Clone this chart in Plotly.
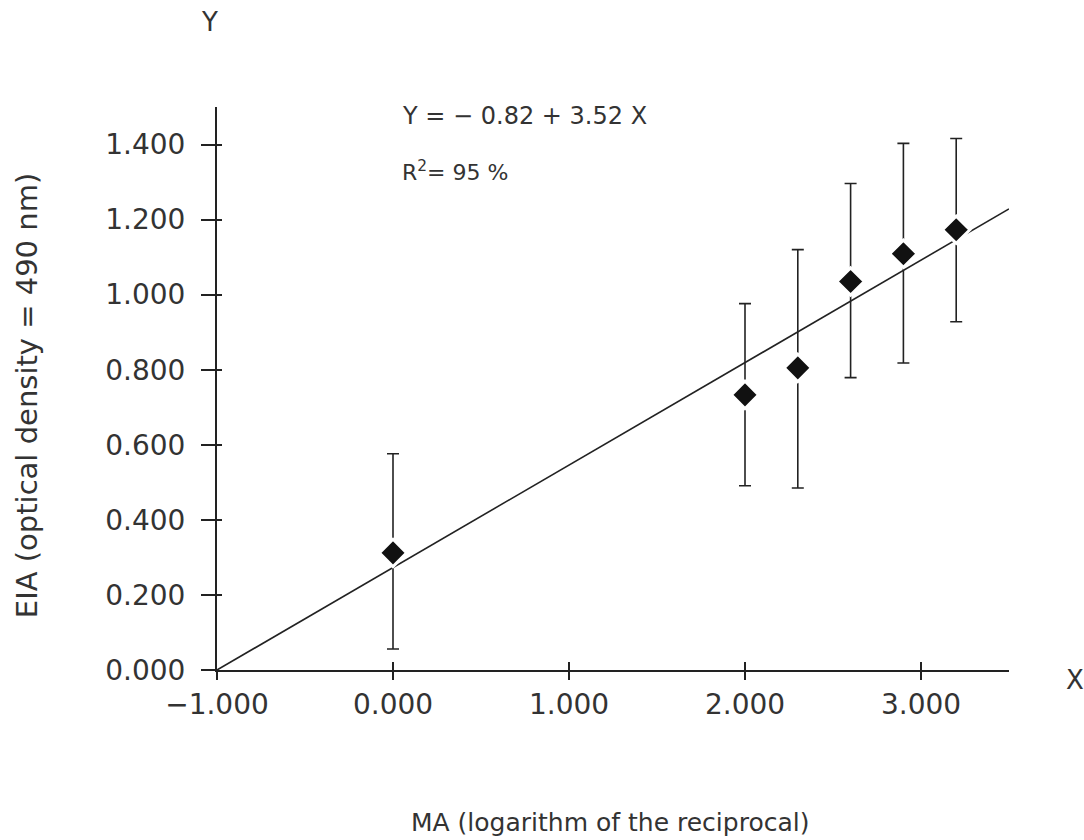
import plotly.graph_objects as go

# ---- data ----
x_vals = [0.0, 2.0, 2.3, 2.6, 2.9, 3.2]
y_vals = [0.312, 0.733, 0.805, 1.035, 1.109, 1.173]
y_upper = [0.576, 0.976, 1.120, 1.296, 1.403, 1.416]
y_lower = [0.056, 0.491, 0.485, 0.779, 0.818, 0.928]

fit_x = [-1.0, 3.5]
fit_slope = 0.273
fit_intercept = 0.273

x_ticks = [-1, 0, 1, 2, 3]
x_tick_labels = ["\u22121.000", "0.000", "1.000", "2.000", "3.000"]
y_ticks = [0.0, 0.2, 0.4, 0.6, 0.8, 1.0, 1.2, 1.4]
y_tick_labels = ["0.000", "0.200", "0.400", "0.600", "0.800", "1.000", "1.200", "1.400"]

x_range = [-1.0, 3.5]
y_range = [0.0, 1.5]

equation_text = "Y = \u2212 0.82 + 3.52 X"
r2_text = "R<sup>2</sup>= 95 %"

# ---- derived ----
fit_y = [fit_intercept + fit_slope * v for v in fit_x]
err_plus = [u - v for u, v in zip(y_upper, y_vals)]
err_minus = [v - l for v, l in zip(y_vals, y_lower)]

INK = "#222222"
TXT = "#333333"
FONT = "DejaVu Sans"

fig = go.Figure()

fig.add_trace(go.Scatter(
    x=fit_x, y=fit_y, mode="lines",
    line=dict(color=INK, width=1.6),
    showlegend=False, hoverinfo="skip",
))

fig.add_trace(go.Scatter(
    x=x_vals, y=y_vals, mode="markers",
    marker=dict(symbol="diamond", size=21, color="#111111",
                line=dict(color="white", width=3)),
    error_y=dict(type="data", symmetric=False, array=err_plus,
                 arrayminus=err_minus, color=INK, thickness=1.6, width=6),
    showlegend=False,
))

# invisible trace to host the overlay axes (inner halves of the crossing ticks)
fig.add_trace(go.Scatter(
    x=[x_range[0]], y=[y_range[0]], xaxis="x2", yaxis="y2",
    mode="markers", marker=dict(opacity=0), showlegend=False, hoverinfo="skip",
))

fig.update_layout(
    width=1084, height=840,
    margin=dict(l=217, r=75, t=107, b=170),
    paper_bgcolor="white", plot_bgcolor="white",
    font=dict(family=FONT, color=TXT),
    xaxis=dict(
        range=x_range, showgrid=False, zeroline=False,
        showline=True, linecolor=INK, linewidth=2,
        tickmode="array", tickvals=x_ticks, ticktext=x_tick_labels,
        ticks="outside", ticklen=8, tickwidth=2, tickcolor=INK,
        tickfont=dict(size=28, color=TXT, family=FONT),
    ),
    yaxis=dict(
        range=y_range, showgrid=False, zeroline=False,
        showline=True, linecolor=INK, linewidth=2,
        tickmode="array", tickvals=y_ticks, ticktext=y_tick_labels,
        ticks="outside", ticklen=14, tickwidth=2, tickcolor=INK,
        ticklabelstandoff=10,
        tickfont=dict(size=28, color=TXT, family=FONT),
    ),
    xaxis2=dict(
        range=x_range, overlaying="x", side="bottom", anchor="y2",
        showgrid=False, zeroline=False, showline=False,
        tickmode="array", tickvals=x_ticks, showticklabels=False,
        ticks="inside", ticklen=8, tickwidth=2, tickcolor=INK,
    ),
    yaxis2=dict(
        range=y_range, overlaying="y", side="left", anchor="x2",
        showgrid=False, zeroline=False, showline=False,
        tickmode="array", tickvals=y_ticks, showticklabels=False,
        ticks="inside", ticklen=5, tickwidth=2, tickcolor=INK,
    ),
)

annotations = [
    dict(text=equation_text, x=0.04, y=1.475, xref="x", yref="y",
         xanchor="left", yanchor="middle", showarrow=False,
         font=dict(size=24, color=TXT, family=FONT)),
    dict(text=r2_text, x=0.04, y=1.33, xref="x", yref="y",
         xanchor="left", yanchor="middle", showarrow=False,
         font=dict(size=22, color=TXT, family=FONT)),
    dict(text="Y", x=-0.009, y=1.151, xref="paper", yref="paper",
         xanchor="center", yanchor="middle", showarrow=False,
         font=dict(size=26, color=TXT, family=FONT)),
    dict(text="X", x=1.083, y=-0.018, xref="paper", yref="paper",
         xanchor="center", yanchor="middle", showarrow=False,
         font=dict(size=26, color=TXT, family=FONT)),
    dict(text="MA (logarithm of the reciprocal)", x=0.496, y=-0.27,
         xref="paper", yref="paper", xanchor="center", yanchor="middle",
         showarrow=False, font=dict(size=25, color=TXT, family=FONT)),
    dict(text="EIA (optical density = 490 nm)", x=-0.24, y=0.488,
         xref="paper", yref="paper", xanchor="center", yanchor="middle",
         textangle=-90, showarrow=False,
         font=dict(size=29, color=TXT, family=FONT)),
]
fig.update_layout(annotations=annotations)

fig.write_html("out.html")
